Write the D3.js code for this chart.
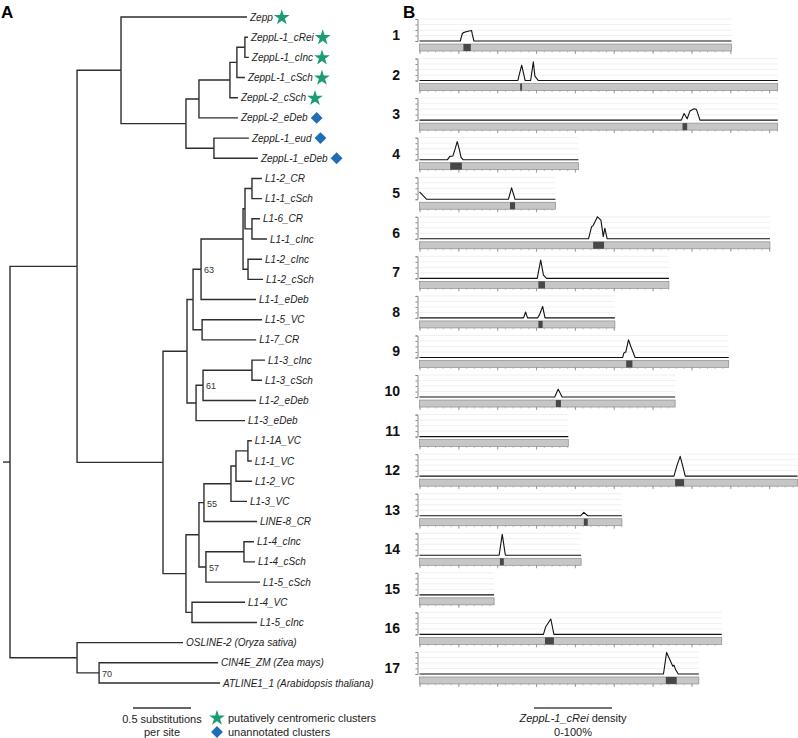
<!DOCTYPE html>
<html><head><meta charset="utf-8">
<script src="https://cdn.jsdelivr.net/npm/d3@7"></script>
<style>
body{margin:0;background:#fff}
svg{display:block}
text{font-family:"Liberation Sans",Arial,Helvetica,sans-serif}
</style>
</head><body>
<svg id="c" width="798" height="738"></svg>
<script>
// ---------------- DATA ----------------
// Tree: [node, parent, branch length (substitutions/site)]
const treeEdges = [
  ["R","",0],
  ["H","R",0.578],
  ["G","H",0.379],
  ["Zepp","G",1.086],
  ["F","G",0.560],
  ["D","F",0.112],
  ["C","D",0.267],
  ["B","C",0.060],
  ["A","B",0.069],
  ["ZeppL-1_cRei","A",0.026],
  ["ZeppL-1_cInc","A",0.034],
  ["ZeppL-1_cSch","B",0.069],
  ["ZeppL-2_cSch","C",0.069],
  ["ZeppL-2_eDeb","D",0.336],
  ["E","F",0.241],
  ["ZeppL-1_eud","E",0.302],
  ["ZeppL-1_eDeb","E",0.379],
  ["L1","H",0.741],
  ["U","L1",0.207],
  ["U1","U",0.052],
  ["n63","U1",0.069],
  ["n243","n63",0.362],
  ["n245","n243",0.017],
  ["n252a","n245",0.060],
  ["L1-2_CR","n252a",0.086],
  ["L1-1_cSch","n252a",0.086],
  ["n252b","n245",0.060],
  ["L1-6_CR","n252b",0.069],
  ["L1-1_cInc","n252b",0.129],
  ["n248","n243",0.043],
  ["L1-2_cInc","n248",0.121],
  ["L1-2_cSch","n248",0.129],
  ["L1-1_eDeb","n63",0.474],
  ["n202","U1",0.078],
  ["L1-5_VC","n202",0.517],
  ["L1-7_CR","n202",0.466],
  ["U2","U",0.078],
  ["n61","U2",0.060],
  ["n252c","n61",0.422],
  ["L1-3_cInc","n252c",0.112],
  ["L1-3_cSch","n252c",0.086],
  ["L1-2_eDeb","n61",0.457],
  ["L1-3_eDeb","U2",0.422],
  ["Lw","L1",0.198],
  ["Lw1","Lw",0.112],
  ["n55","Lw1",0.043],
  ["n231","n55",0.233],
  ["n236","n231",0.043],
  ["n248b","n236",0.103],
  ["L1-1A_VC","n248b",0.034],
  ["L1-1_VC","n248b",0.034],
  ["L1-2_VC","n236",0.138],
  ["L1-3_VC","n231",0.138],
  ["LINE-8_CR","n55",0.457],
  ["n57","Lw1",0.060],
  ["n244","n57",0.328],
  ["L1-4_cInc","n244",0.086],
  ["L1-4_cSch","n244",0.095],
  ["L1-5_cSch","n57",0.466],
  ["Lw2","Lw",0.052],
  ["L1-4_VC","Lw2",0.457],
  ["L1-5_cInc","Lw2",0.560],
  ["O","R",0.578],
  ["OSLINE-2","O",0.914],
  ["O2","O",0.190],
  ["CIN4E_ZM","O2",1.026],
  ["ATLINE1_1","O2",1.043]
];
const bootstrapNodes = ["n63","n61","n55","n57","O2"];
const bootstrapValues = [63, 61, 55, 57, 70];
const speciesNames = {"OSLINE-2":"Oryza sativa","CIN4E_ZM":"Zea mays","ATLINE1_1":"Arabidopsis thaliana"};
const centromericClusters = ["Zepp","ZeppL-1_cRei","ZeppL-1_cInc","ZeppL-1_cSch","ZeppL-2_cSch"];
const unannotatedClusters = ["ZeppL-2_eDeb","ZeppL-1_eud","ZeppL-1_eDeb"];
const scaleBarValue = 0.5;

// Panel B: chromosomes (Mb)
const chromNames = ["1","2","3","4","5","6","7","8","9","10","11","12","13","14","15","16","17"];
const chromLengths = [8.03, 9.22, 9.22, 4.09, 3.50, 9.02, 6.42, 5.03, 7.96, 6.58, 3.83, 9.73, 5.21, 4.16, 1.92, 7.78, 7.19];
const centromeres = [[1.13,1.32],[2.59,2.64],[6.77,6.89],[0.79,1.09],[2.33,2.46],[4.47,4.75],[3.06,3.23],[3.06,3.17],[5.32,5.48],[3.51,3.64],null,[6.58,6.81],[4.23,4.33],[2.07,2.17],null,[3.23,3.46],[6.34,6.62]];
// density profile points [Mb, fraction 0-1] (zero elsewhere)
const densityPeaks = [
  [[1.05,0],[1.10,0.33],[1.13,0.38],[1.22,0.43],[1.34,0.48],[1.36,0.3],[1.40,0]],
  [[2.53,0],[2.63,0.70],[2.72,0],[2.86,0],[2.93,0.85],[2.97,0.2],[3.06,0]],
  [[6.74,0],[6.81,0.30],[6.89,0.06],[6.96,0.41],[7.07,0.52],[7.13,0.48],[7.22,0]],
  [[0.72,0],[0.78,0.15],[0.86,0.17],[0.92,0.5],[0.97,0.82],[1.02,0.5],[1.07,0.1],[1.12,0]],
  [[0,0.33],[0.18,0],[2.29,0],[2.37,0.52],[2.46,0]],
  [[4.35,0],[4.43,0.55],[4.47,0.6],[4.58,1.0],[4.67,0.85],[4.73,0.1],[4.77,0.48],[4.83,0]],
  [[3.03,0],[3.12,0.83],[3.19,0.15],[3.27,0]],
  [[2.68,0],[2.73,0.27],[2.78,0],[3.04,0],[3.09,0.15],[3.17,0.52],[3.23,0]],
  [[5.23,0],[5.26,0.2],[5.31,0.25],[5.38,0.8],[5.44,0.5],[5.55,0]],
  [[3.48,0],[3.57,0.36],[3.67,0]],
  [],
  [[6.55,0],[6.63,0.5],[6.71,0.9],[6.77,0.5],[6.84,0]],
  [[4.15,0],[4.23,0.15],[4.33,0]],
  [[2.05,0],[2.13,0.95],[2.21,0]],
  [],
  [[3.19,0],[3.25,0.35],[3.38,0.7],[3.46,0]],
  [[6.28,0],[6.36,0.98],[6.52,0.35],[6.55,0.40],[6.59,0.2],[6.66,0]]
];
const gridLevels = [0.25, 0.5, 0.75, 1];

// ---------------- DRAW ----------------
const svg = d3.select("#c");
const green = "#1c9c74", blue = "#1f6db4";

// Panel letters
svg.append("text").attr("x",1).attr("y",18).attr("font-size",17).attr("font-weight","bold").text("A");
svg.append("text").attr("x",403).attr("y",18).attr("font-size",17).attr("font-weight","bold").text("B");

// ---- Panel A: tree ----
const tx = d3.scaleLinear().domain([0,1]).range([10,126]);
const root = d3.stratify().id(d=>d[0]).parentId(d=>d[1])(treeEdges);
root.eachBefore(n => { n.dist = n.parent ? n.parent.dist + n.data[2] : 0; });
const leaves = root.leaves();
const ty = d3.scaleLinear().domain([0, leaves.length-1]).range([17, 683]);
leaves.forEach((l,i) => l.yy = ty(i));
root.eachAfter(n => { if (n.children) n.yy = (n.children[0].yy + n.children[n.children.length-1].yy)/2; });

const gA = svg.append("g");
gA.selectAll("path.link").data(root.descendants().filter(n=>n.parent)).join("path")
  .attr("fill","none").attr("stroke","#2e2e2e").attr("stroke-width",1.4)
  .attr("d", n => `M${tx(n.parent.dist)},${n.parent.yy}V${n.yy}H${tx(n.dist)}`);
gA.append("path").attr("stroke","#2e2e2e").attr("stroke-width",1.4)
  .attr("d",`M${tx(0)-7},${root.yy}H${tx(0)}`);

const starSym = d3.symbol().type(d3.symbolStar).size(78)();
const diamSym = d3.symbol().type(d3.symbolSquare).size(70)();

leaves.forEach(l => {
  const t = gA.append("text").attr("x", tx(l.dist)+3).attr("y", l.yy).attr("dy","0.35em")
    .attr("font-size",10).attr("font-style","italic").attr("fill","#222");
  t.append("tspan").text(l.id);
  if (speciesNames[l.id]) t.append("tspan").text(" (" + speciesNames[l.id] + ")");
  const w = t.node().getComputedTextLength();
  const mx = tx(l.dist)+3+w+9;
  if (centromericClusters.includes(l.id))
    gA.append("path").attr("d",starSym).attr("fill",green).attr("transform",`translate(${mx},${l.yy+0.5})`);
  if (unannotatedClusters.includes(l.id))
    gA.append("path").attr("d",diamSym).attr("fill",blue).attr("transform",`translate(${mx},${l.yy})rotate(45)`);
});

bootstrapNodes.forEach((id,i) => {
  const n = root.find(d => d.id === id);
  gA.append("text").attr("x", tx(n.dist)+3).attr("y", n.yy+1).attr("dy","0.35em")
    .attr("font-size",9).attr("fill","#333").text(bootstrapValues[i]);
});

// scale bar + legend
const sbx0 = 133;
gA.append("line").attr("x1",sbx0).attr("x2",sbx0 + tx(scaleBarValue)-tx(0)).attr("y1",708).attr("y2",708)
  .attr("stroke","#333").attr("stroke-width",1.5);
gA.append("text").attr("x",sbx0+(tx(scaleBarValue)-tx(0))/2).attr("y",723).attr("text-anchor","middle")
  .attr("font-size",11).attr("fill","#222").text(scaleBarValue + " substitutions");
gA.append("text").attr("x",sbx0+(tx(scaleBarValue)-tx(0))/2).attr("y",736).attr("text-anchor","middle")
  .attr("font-size",11).attr("fill","#222").text("per site");
gA.append("path").attr("d",starSym).attr("fill",green).attr("transform","translate(217,718)");
gA.append("text").attr("x",228).attr("y",722).attr("font-size",11).attr("fill","#222").text("putatively centromeric clusters");
gA.append("path").attr("d",diamSym).attr("fill",blue).attr("transform","translate(217,732)rotate(45)");
gA.append("text").attr("x",228).attr("y",736).attr("font-size",11).attr("fill","#222").text("unannotated clusters");

// ---- Panel B ----
const bx = d3.scaleLinear().domain([0,1]).range([419.5, 458.35]);
const gB = svg.append("g");
chromLengths.forEach((len,i) => {
  const top = 44 + i*39.56;
  const base = top - 3;
  const y = d3.scaleLinear().domain([0,1]).range([base, base-22]);
  const g = gB.append("g");
  // grid
  g.selectAll("line.grid").data(gridLevels).join("line")
    .attr("x1",bx(0)).attr("x2",bx(len)).attr("y1",d=>y(d)).attr("y2",d=>y(d))
    .attr("stroke","#ececec").attr("stroke-width",0.8);
  // y axis bracket
  const ya = d3.axisLeft(y).tickValues([0,0.25,0.5,0.75,1]).tickSize(2).tickFormat("");
  g.append("g").attr("transform",`translate(${bx(0)-2},0)`).call(ya)
    .call(s => { s.select(".domain").attr("stroke","#888"); s.selectAll(".tick line").attr("stroke","#888"); });
  // density
  const pts = [];
  const pk = densityPeaks[i];
  if (!pk.length || pk[0][0] > 0) pts.push([0,0]);
  pk.forEach(p => pts.push(p));
  pts.push([len,0]);
  g.append("path").datum(pts).attr("fill","none").attr("stroke","#111").attr("stroke-width",1.1)
    .attr("stroke-linejoin","round")
    .attr("d", d3.line().x(d=>bx(d[0])).y(d=>y(d[1])));
  // chromosome bar
  g.append("rect").attr("x",bx(0)).attr("y",top).attr("width",bx(len)-bx(0)).attr("height",7)
    .attr("fill","#c6c6c6").attr("stroke","#8c8c8c").attr("stroke-width",0.7);
  if (centromeres[i])
    g.append("rect").attr("x",bx(centromeres[i][0])).attr("y",top).attr("width",bx(centromeres[i][1])-bx(centromeres[i][0]))
      .attr("height",7).attr("fill","#474747");
  // ticks
  const minor = d3.range(0, len+1e-9, 0.2);
  const major = d3.range(0, len+1e-9, 1);
  g.append("g").attr("transform",`translate(0,${top+7})`)
    .call(d3.axisBottom(bx).tickValues(minor).tickSize(1.5).tickFormat(""))
    .call(s => { s.select(".domain").remove(); s.selectAll(".tick line").attr("stroke","#999").attr("stroke-width",0.6); });
  g.append("g").attr("transform",`translate(0,${top+7})`)
    .call(d3.axisBottom(bx).tickValues(major).tickSize(3).tickFormat(""))
    .call(s => { s.select(".domain").remove(); s.selectAll(".tick line").attr("stroke","#888").attr("stroke-width",0.8); });
  // label
  g.append("text").attr("x",400).attr("y",top-4).attr("text-anchor","end")
    .attr("font-size",14).attr("font-weight","bold").attr("fill","#111").text(chromNames[i]);
});
// density legend
gB.append("line").attr("x1",534).attr("x2",612).attr("y1",708).attr("y2",708).attr("stroke","#444").attr("stroke-width",1.5);
const lt = gB.append("text").attr("x",573).attr("y",722).attr("text-anchor","middle").attr("font-size",11).attr("fill","#222");
lt.append("tspan").attr("font-style","italic").text("ZeppL-1_cRei");
lt.append("tspan").text(" density");
gB.append("text").attr("x",573).attr("y",736).attr("text-anchor","middle").attr("font-size",11).attr("fill","#222").text("0-100%");
</script>
</body></html>
